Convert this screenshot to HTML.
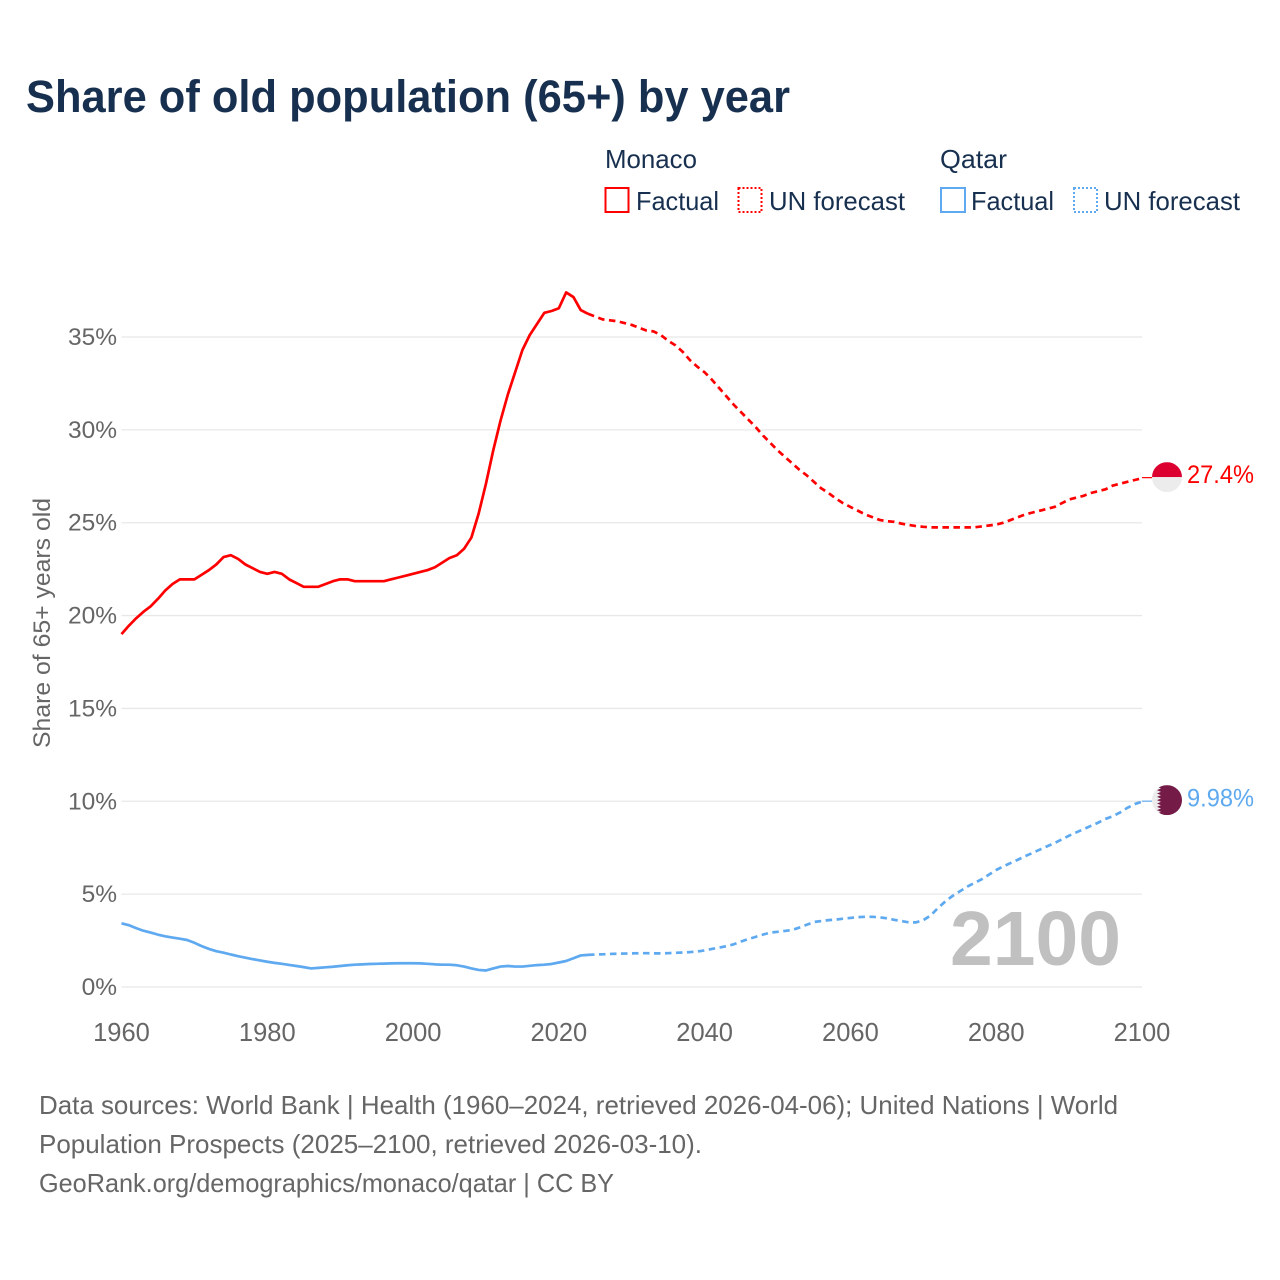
<!DOCTYPE html>
<html lang="en">
<head>
<meta charset="utf-8">
<title>Share of old population (65+) by year</title>
<style>
html,body{margin:0;padding:0;background:#fff;width:1280px;height:1280px;overflow:hidden}
svg{display:block}
text{font-family:"Liberation Sans",sans-serif}
</style>
</head>
<body>
<svg id="chart" xmlns="http://www.w3.org/2000/svg" width="1280" height="1280" viewBox="0 0 1280 1280">
  <defs>
    <clipPath id="flag-clip"><circle cx="0" cy="0" r="15"/></clipPath>
  </defs>
  <rect width="1280" height="1280" fill="#ffffff"/>
  <text x="26" y="112" font-size="45" font-weight="700" fill="#18304f" textLength="764" lengthAdjust="spacingAndGlyphs">Share of old population (65+) by year</text>

  <g fill="#18304f" font-size="26">
    <text x="605" y="168" textLength="92" lengthAdjust="spacingAndGlyphs">Monaco</text>
    <rect x="605.5" y="188" width="23" height="24" fill="none" stroke="#ff0000" stroke-width="2"/>
    <text x="636" y="210" textLength="83" lengthAdjust="spacingAndGlyphs">Factual</text>
    <rect x="738.5" y="188" width="23" height="24" fill="none" stroke="#ff0000" stroke-width="2" stroke-dasharray="2,2"/>
    <text x="769" y="210" textLength="136" lengthAdjust="spacingAndGlyphs">UN forecast</text>
    <text x="940" y="168" textLength="67" lengthAdjust="spacingAndGlyphs">Qatar</text>
    <rect x="941" y="188" width="24" height="24" fill="none" stroke="#5ea9ef" stroke-width="2"/>
    <text x="971" y="210" textLength="83" lengthAdjust="spacingAndGlyphs">Factual</text>
    <rect x="1074" y="188" width="23" height="24" fill="none" stroke="#5ea9ef" stroke-width="2" stroke-dasharray="2,2"/>
    <text x="1104" y="210" textLength="136" lengthAdjust="spacingAndGlyphs">UN forecast</text>
  </g>

  <g id="grid"></g>
  <g id="y-ticks"></g>
  <g id="x-ticks"></g>
  <text transform="translate(50,623) rotate(-90)" text-anchor="middle" font-size="24.5" fill="#666666" textLength="250" lengthAdjust="spacingAndGlyphs">Share of 65+ years old</text>

  <text x="950" y="965" font-size="77" font-weight="700" fill="#c0c0c0" textLength="171" lengthAdjust="spacingAndGlyphs">2100</text>

  <g id="series"></g>

  <g id="flag-monaco" clip-path="url(#flag-clip)">
    <rect x="-15" y="-15" width="30" height="15" fill="#dc0030"/>
    <rect x="-15" y="0" width="30" height="15" fill="#ececec"/>
  </g>
  <g id="flag-qatar" clip-path="url(#flag-clip)">
    <rect x="-15" y="-15" width="30" height="30" fill="#ececec"/>
    <polygon id="qatar-serration" fill="#741b47" points="15,-15 15,15 -4,15"/>
  </g>

  <text id="value-monaco" x="1187" font-size="25" fill="#ff0000" textLength="67" lengthAdjust="spacingAndGlyphs">27.4%</text>
  <text id="value-qatar" x="1187" font-size="25" fill="#5ea9ef" textLength="67" lengthAdjust="spacingAndGlyphs">9.98%</text>

  <g font-size="26" fill="#666666">
    <text x="39" y="1114" textLength="1079" lengthAdjust="spacingAndGlyphs">Data sources: World Bank | Health (1960–2024, retrieved 2026-04-06); United Nations | World</text>
    <text x="39" y="1153" textLength="663" lengthAdjust="spacingAndGlyphs">Population Prospects (2025–2100, retrieved 2026-03-10).</text>
    <text x="39" y="1192" textLength="575" lengthAdjust="spacingAndGlyphs">GeoRank.org/demographics/monaco/qatar | CC BY</text>
  </g>
</svg>
<script>
const factualStartYear = 1960;
const forecastStartYear = 2024;
const yTicks = [0, 5, 10, 15, 20, 25, 30, 35];
const xTicks = [1960, 1980, 2000, 2020, 2040, 2060, 2080, 2100];
const monacoFactual = [
  19.0,19.45,19.85,20.2,20.5,20.9,21.35,21.7,21.95,21.95,
  21.95,22.2,22.45,22.75,23.15,23.25,23.05,22.75,22.55,22.35,
  22.25,22.35,22.25,21.95,21.75,21.55,21.55,21.55,21.7,21.85,
  21.95,21.95,21.85,21.85,21.85,21.85,21.85,21.95,22.05,22.15,
  22.25,22.35,22.45,22.6,22.85,23.1,23.25,23.6,24.2,25.5,
  27.1,28.9,30.5,31.9,33.1,34.3,35.1,35.7,36.3,36.4,
  36.55,37.4,37.15,36.45,36.25
];
const monacoForecast = [
  36.25,36.1,35.95,35.9,35.85,35.75,35.65,35.5,35.35,35.3,35.1,
  34.8,34.55,34.2,33.75,33.4,33.1,32.7,32.25,31.8,31.35,
  30.95,30.55,30.15,29.7,29.3,28.9,28.55,28.2,27.85,27.55,
  27.2,26.85,26.6,26.3,26.05,25.85,25.65,25.45,25.3,25.15,
  25.08,25.05,24.95,24.88,24.82,24.78,24.75,24.75,24.75,24.75,
  24.75,24.75,24.75,24.8,24.85,24.9,25.0,25.15,25.3,25.45,
  25.55,25.65,25.75,25.85,26.05,26.25,26.35,26.45,26.6,26.7,
  26.8,27.0,27.1,27.2,27.3,27.4
];
const qatarFactual = [
  3.43,3.33,3.17,3.03,2.93,2.82,2.73,2.66,2.6,2.53,
  2.38,2.2,2.05,1.93,1.85,1.75,1.66,1.58,1.5,1.43,
  1.36,1.3,1.25,1.19,1.13,1.07,1.0,1.03,1.06,1.09,
  1.13,1.17,1.2,1.22,1.24,1.25,1.26,1.27,1.28,1.28,
  1.28,1.27,1.25,1.22,1.2,1.2,1.17,1.1,1.0,0.92,
  0.89,1.0,1.1,1.13,1.1,1.1,1.14,1.18,1.2,1.24,
  1.32,1.4,1.55,1.7,1.73
];
const qatarForecast = [
  1.73,1.75,1.76,1.78,1.79,1.8,1.81,1.82,1.82,1.81,1.81,
  1.82,1.84,1.86,1.88,1.91,1.97,2.05,2.12,2.2,2.3,
  2.45,2.58,2.7,2.82,2.93,2.97,3.02,3.07,3.2,3.35,
  3.5,3.55,3.6,3.63,3.68,3.72,3.76,3.78,3.78,3.75,
  3.7,3.62,3.55,3.48,3.48,3.6,3.85,4.25,4.6,4.9,
  5.15,5.4,5.6,5.8,6.05,6.3,6.5,6.68,6.86,7.05,
  7.22,7.4,7.58,7.75,7.95,8.15,8.33,8.5,8.68,8.85,
  9.05,9.2,9.4,9.65,9.85,9.98
];
const monacoLatestLabel = "27.4%";
const qatarLatestLabel = "9.98%";

const SVGNS = "http://www.w3.org/2000/svg";
function xScale(year) { return 121.5 + (year - 1960) * (1142 - 121.5) / 140; }
function yScale(value) { return 987 - value * (987 - 337) / 35; }
function make(tag, attrs, parent) {
  const el = document.createElementNS(SVGNS, tag);
  for (const k in attrs) el.setAttribute(k, attrs[k]);
  parent.appendChild(el);
  return el;
}

const grid = document.getElementById("grid");
const yTickGroup = document.getElementById("y-ticks");
const xTickGroup = document.getElementById("x-ticks");
const seriesGroup = document.getElementById("series");

yTicks.forEach(function (v) {
  const line = make("line", {x1: 121.5, x2: 1142, y1: yScale(v), y2: yScale(v), stroke: "#e8e8e8", "stroke-width": 1.3}, grid);
  
  
  const label = make("text", {x: 117, y: yScale(v) + 8, "text-anchor": "end", "font-size": 24.5, fill: "#666666"}, yTickGroup);
  
  
  label.textContent = v + "%";
});
xTicks.forEach(function (year) {
  const label = make("text", {x: xScale(year), y: 1041, "text-anchor": "middle", "font-size": 25.5, fill: "#666666"}, xTickGroup);
  
  
  label.textContent = String(year);
});

function pathFrom(values, startYear) {
  return values.map(function (v, i) {
    return (i ? "L" : "M") + xScale(startYear + i).toFixed(2) + " " + yScale(v).toFixed(2);
  }).join(" ");
}
function drawLine(values, startYear, color, dashed) {
  const attrs = {d: pathFrom(values, startYear), fill: "none", stroke: color, "stroke-width": 2.7, "stroke-linejoin": "round"};
  if (dashed) attrs["stroke-dasharray"] = "6.5,4.5";
  return make("path", attrs, seriesGroup);
}
const m1 = drawLine(monacoFactual, factualStartYear, "#ff0000", false);


const m2 = drawLine(monacoForecast, forecastStartYear, "#ff0000", true);


const q1 = drawLine(qatarFactual, factualStartYear, "#5ea9ef", false);


const q2 = drawLine(qatarForecast, forecastStartYear, "#5ea9ef", true);



const lastMonaco = monacoForecast[monacoForecast.length - 1];
const lastQatar = qatarForecast[qatarForecast.length - 1];
const endX = xScale(2100);
const c1 = make("line", {x1: endX, x2: endX + 10, y1: yScale(lastMonaco) - 0.5, y2: yScale(lastMonaco) - 0.5, stroke: "#ff0000", "stroke-width": 1.2}, seriesGroup);


const c2 = make("line", {x1: endX, x2: endX + 10, y1: yScale(lastQatar) - 0.5, y2: yScale(lastQatar) - 0.5, stroke: "#5ea9ef", "stroke-width": 1.2}, seriesGroup);



const flagX = endX + 25;
document.getElementById("flag-monaco").setAttribute("transform", "translate(" + flagX + "," + (yScale(lastMonaco) - 1) + ")");
document.getElementById("flag-qatar").setAttribute("transform", "translate(" + flagX + "," + (yScale(lastQatar) - 1.5) + ")");
document.getElementById("value-monaco").setAttribute("y", yScale(lastMonaco) + 5);
document.getElementById("value-qatar").setAttribute("y", yScale(lastQatar) + 5);
document.getElementById("value-monaco").textContent = monacoLatestLabel;
document.getElementById("value-qatar").textContent = qatarLatestLabel;

let pts = "15,-15 15,15 -6,15";
for (let i = 8; i >= 0; i--) {
  const top = -15 + i * 30 / 9;
  pts += " -10," + (top + 30 / 9 - 1.67).toFixed(2) + " -6," + top.toFixed(2);
}
document.getElementById("qatar-serration").setAttribute("points", pts);
</script>
</body>
</html>
